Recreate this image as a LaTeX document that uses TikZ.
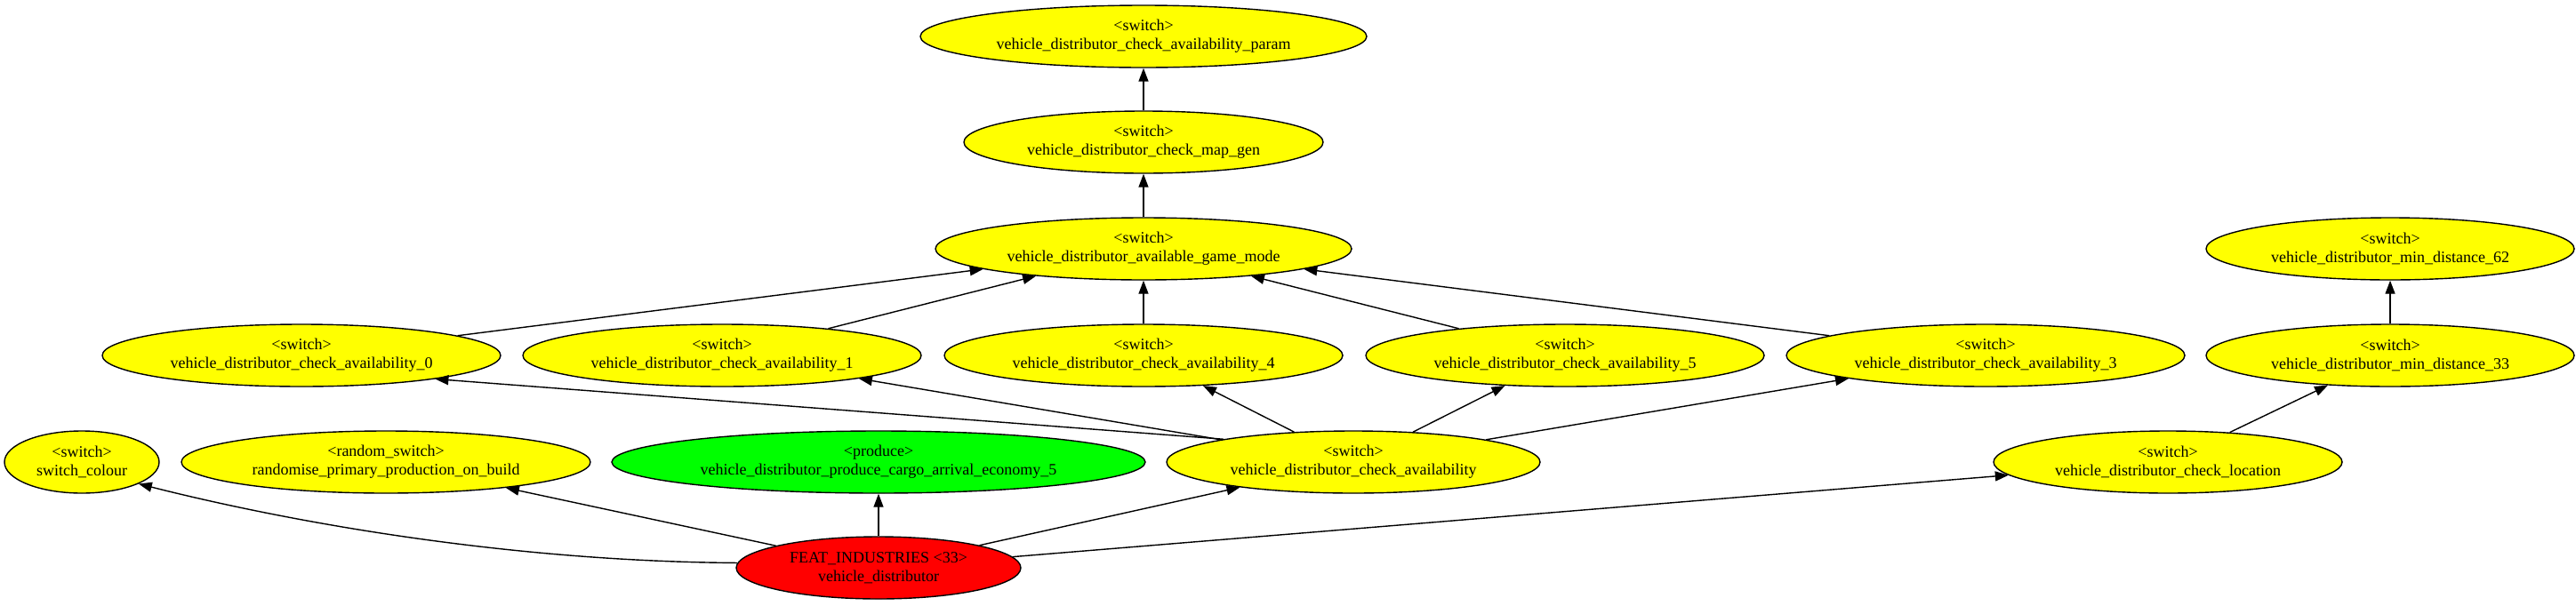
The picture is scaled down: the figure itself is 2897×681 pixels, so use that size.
\documentclass[tikz,border=0pt]{standalone}
\usepackage{fontspec}
\setmainfont{Liberation Serif}
\usetikzlibrary{shapes.geometric,arrows.meta}
\tikzset{
  nd/.style={ellipse,draw=black,line width=1.4pt,inner sep=0pt,minimum height=70pt,
    align=center,font=\fontsize{18}{21}\selectfont,fill=yellow},
  edge/.style={line width=1.4pt,-{Triangle[length=15pt,width=11pt]}}
}
\definecolor{gvgreen}{RGB}{0,255,0}
\definecolor{gvred}{RGB}{255,0,0}
\definecolor{gvyellow}{RGB}{255,255,0}
\begin{document}
\begin{tikzpicture}[x=1pt,y=1pt]
\useasboundingbox (0,0) rectangle (2897,-681);
\tikzset{nd/.append style={fill=gvyellow}}
\node[nd,minimum width=502pt] (param) at (1286,-41) {<switch>\\vehicle\_distributor\_check\_availability\_param};
\node[nd,minimum width=404pt] (mapgen) at (1286,-160) {<switch>\\vehicle\_distributor\_check\_map\_gen};
\node[nd,minimum width=468pt] (gm) at (1286,-280) {<switch>\\vehicle\_distributor\_available\_game\_mode};
\node[nd,minimum width=414pt] (m62) at (2688,-280) {<switch>\\vehicle\_distributor\_min\_distance\_62};
\node[nd,minimum width=448pt] (a0) at (339,-400) {<switch>\\vehicle\_distributor\_check\_availability\_0};
\node[nd,minimum width=448pt] (a1) at (812,-400) {<switch>\\vehicle\_distributor\_check\_availability\_1};
\node[nd,minimum width=448pt] (a4) at (1286,-400) {<switch>\\vehicle\_distributor\_check\_availability\_4};
\node[nd,minimum width=448pt] (a5) at (1760,-400) {<switch>\\vehicle\_distributor\_check\_availability\_5};
\node[nd,minimum width=448pt] (a3) at (2233,-400) {<switch>\\vehicle\_distributor\_check\_availability\_3};
\node[nd,minimum width=414pt] (m33) at (2688,-400) {<switch>\\vehicle\_distributor\_min\_distance\_33};
\node[nd,minimum width=174pt] (sc) at (92,-520) {<switch>\\switch\_colour};
\node[nd,minimum width=460pt] (rnd) at (434,-520) {<random\_switch>\\randomise\_primary\_production\_on\_build};
\node[nd,minimum width=600pt,fill=gvgreen] (prod) at (988,-520) {<produce>\\vehicle\_distributor\_produce\_cargo\_arrival\_economy\_5};
\node[nd,minimum width=420pt] (chk) at (1522,-520) {<switch>\\vehicle\_distributor\_check\_availability};
\node[nd,minimum width=392pt] (loc) at (2438,-520) {<switch>\\vehicle\_distributor\_check\_location};
\node[nd,minimum width=320pt,fill=gvred] (feat) at (988,-639) {FEAT\_INDUSTRIES <33>\\vehicle\_distributor};

\draw[edge] (mapgen) -- (param);
\draw[edge] (gm) -- (mapgen);
\draw[edge] (a0) -- (gm);
\draw[edge] (a1) -- (gm);
\draw[edge] (a4) -- (gm);
\draw[edge] (a5) -- (gm);
\draw[edge] (a3) -- (gm);
\draw[edge] (m33) -- (m62);
\draw[edge] (loc) -- (m33);
\draw[edge] (chk.170) -- (a0.-10);
\draw[edge] (chk) -- (a1);
\draw[edge] (chk) -- (a4);
\draw[edge] (chk) -- (a5);
\draw[edge] (chk) -- (a3);
\draw[edge] (feat.178) .. controls (600,-632) and (360,-596) .. (sc.-21);
\draw[edge] (feat) -- (rnd);
\draw[edge] (feat) -- (prod);
\draw[edge] (feat) -- (chk);
\draw[edge] (feat) -- (loc);
\end{tikzpicture}
\end{document}
